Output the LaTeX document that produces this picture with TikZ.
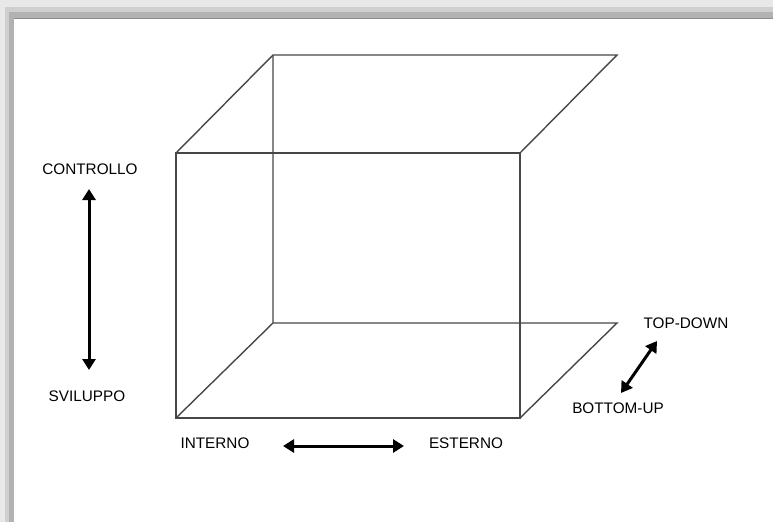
\documentclass[tikz,border=0pt]{standalone}
\usepackage{fontspec}
\setmainfont{Liberation Sans}
\usetikzlibrary{arrows.meta}
\begin{document}
\begin{tikzpicture}[x=1pt,y=-1pt,
  edge/.style={draw=black!72,line width=1.4pt},
  dblarrow/.style={draw=black,line width=3pt,{Triangle[width=13pt,length=11pt]}-{Triangle[width=13pt,length=11pt]}},
  lbl/.style={font=\fontsize{15.3}{17}\selectfont,inner sep=0pt,text=black}]
\useasboundingbox (0,0) rectangle (773,522);
\fill[white] (0,0) rectangle (773,522);
% frame shadow
\fill[black!9] (0,0) rectangle (773,7);
\fill[black!9] (0,0) rectangle (5,522);
\fill[black!19] (5,7) rectangle (773,12);
\fill[black!19] (5,7) rectangle (9,522);
\fill[black!30] (9,12) rectangle (773,18);
\fill[black!30] (9,12) rectangle (14,522);
\draw[black!45,line width=1pt] (14,18.5) -- (773,18.5);
% cube corners
\coordinate (ftl) at (176,153);
\coordinate (ftr) at (520,153);
\coordinate (fbl) at (176,418);
\coordinate (fbr) at (520,418);
\coordinate (btl) at (273,55);
\coordinate (btr) at (617,55);
\coordinate (bbl) at (273,323);
\coordinate (bbr) at (617,323);
\draw[edge] (ftl) rectangle (fbr);
\draw[edge] (ftr) -- (btr) -- (btl) -- (ftl);
\draw[edge] (btl) -- (bbl) -- (bbr) -- (fbr);
\draw[edge] (bbl) -- (fbl);
% labels
\node[lbl] (controllo) at (90,169) {CONTROLLO};
\node[lbl] (sviluppo) at (87,396) {SVILUPPO};
\node[lbl] (interno) at (215,443) {INTERNO};
\node[lbl] (esterno) at (466,443) {ESTERNO};
\node[lbl] (topdown) at (686,323) {TOP-DOWN};
\node[lbl] (bottomup) at (618,408) {BOTTOM-UP};
% arrows
\coordinate (v1) at (89,189);
\coordinate (v2) at (89,370);
\draw[dblarrow] (v1) -- (v2);
\coordinate (h1) at (283,446);
\coordinate (h2) at (404,446);
\draw[dblarrow] (h1) -- (h2);
\coordinate (d1) at (657,341);
\coordinate (d2) at (621,393);
\draw[dblarrow] (d1) -- (d2);
\end{tikzpicture}
\end{document}
